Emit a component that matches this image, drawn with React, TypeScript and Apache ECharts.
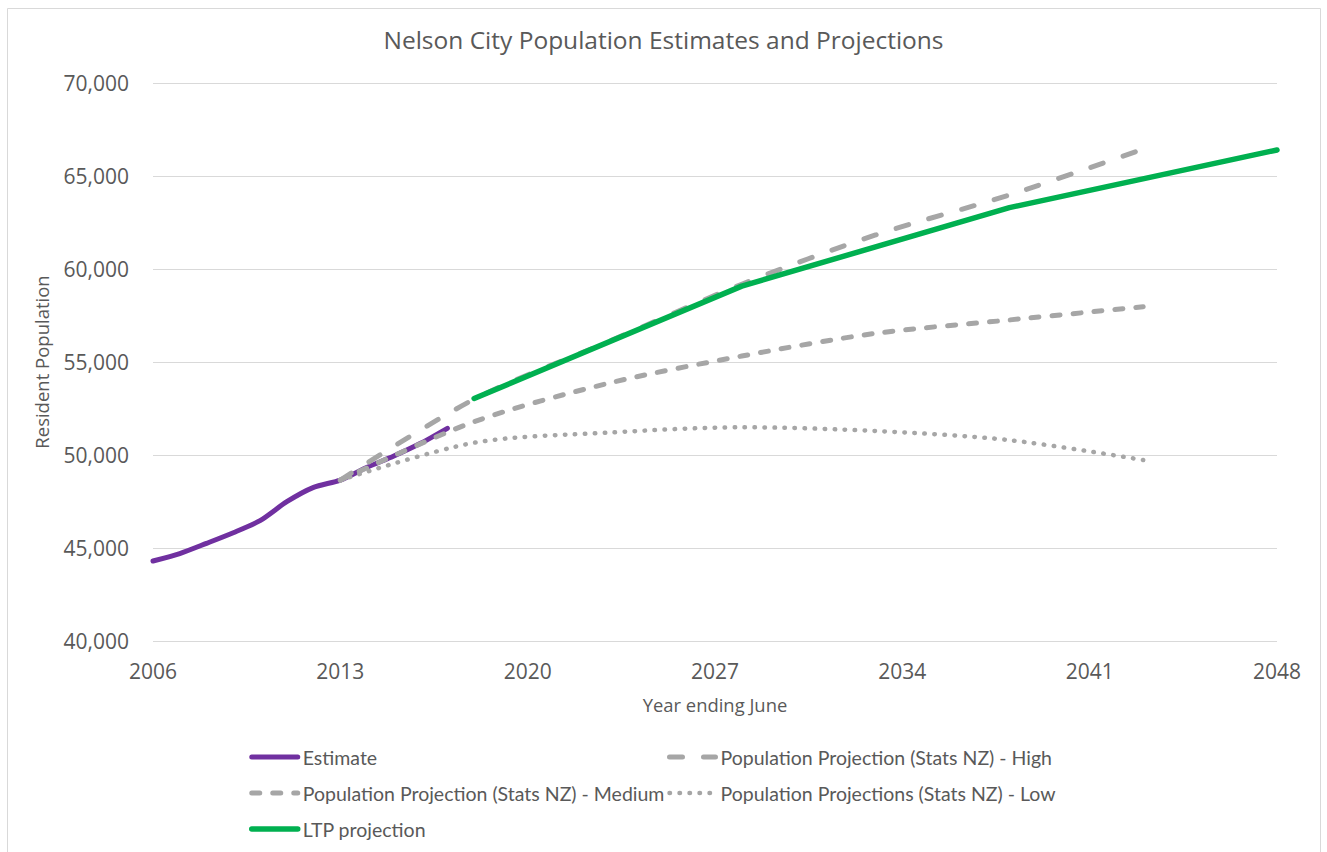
import React, { useEffect, useRef } from "react";
import * as echarts from "echarts";

const yearCategories: string[] = [];
for (let y = 2006; y <= 2048; y++) yearCategories.push(String(y));

const estimateYears = [2006, 2007, 2008, 2009, 2010, 2011, 2012, 2013, 2014, 2015, 2016, 2017];
const estimateValues = [44300, 44700, 45250, 45820, 46470, 47490, 48260, 48650, 49340, 49950, 50630, 51435];

const projectionYears = [2013, 2018, 2023, 2028, 2033, 2038, 2043];
const highValues = [48650, 53000, 56080, 59180, 61830, 63980, 66450];
const mediumValues = [48650, 51790, 53850, 55320, 56540, 57260, 57970];
const lowValues = [48650, 50660, 51200, 51490, 51290, 50800, 49730];

const ltpYears = [2018, 2028, 2038, 2048];
const ltpValues = [53040, 59080, 63300, 66400];

const seriesNames = [
  "Estimate",
  "Population Projection (Stats NZ) - High",
  "Population Projection (Stats NZ) - Medium",
  "Population Projections (Stats NZ) - Low",
  "LTP projection",
];

const pairs = (ys: number[], vs: number[]) => ys.map((y, i) => [String(y), vs[i]]);

const TEXT = "#595959";
const FONT = "'Open Sans', sans-serif";
const LEG_FONT = "Lato, sans-serif";

export default function App() {
  const ref = useRef<HTMLDivElement>(null);
  useEffect(() => {
    if (!ref.current) return;
    const chart = echarts.init(ref.current, null, { renderer: "svg" });
    const legendText = { color: TEXT, fontSize: 19.5, fontFamily: LEG_FONT, lineHeight: 22 };
    const legendBase = {
      orient: "vertical",
      top: 746,
      padding: 0,
      itemWidth: 46,
      itemHeight: 14,
      itemGap: 14,
      textStyle: legendText,
      itemStyle: { opacity: 0 },
      lineStyle: { width: "inherit", type: "inherit", cap: "round" },
    };
    chart.setOption({
      animation: false,
      backgroundColor: "#ffffff",
      title: {
        text: "Nelson City Population Estimates and Projections",
        left: "center",
        top: 27,
        padding: 0,
        textStyle: { color: TEXT, fontSize: 24.5, fontWeight: "normal", fontFamily: FONT },
      },
      graphic: [
        {
          type: "rect",
          shape: { x: 7.5, y: 8.5, width: 1313, height: 870 },
          style: { fill: "none", stroke: "#D9D9D9", lineWidth: 1 },
          silent: true,
        },
      ],
      legend: [
        { ...legendBase, left: 249, data: [seriesNames[0], seriesNames[2], seriesNames[4]] },
        { ...legendBase, left: 667, data: [seriesNames[1], seriesNames[3]] },
      ],
      grid: { left: 153, right: 50, top: 83, bottom: 211, containLabel: false },
      xAxis: {
        type: "category",
        data: yearCategories,
        boundaryGap: false,
        name: "Year ending June",
        nameLocation: "middle",
        nameGap: 54,
        nameTextStyle: { color: TEXT, fontSize: 18.4, fontFamily: FONT },
        axisLine: { show: false },
        axisTick: { show: false },
        axisLabel: { interval: 6, color: TEXT, fontSize: 21, fontFamily: FONT, margin: 19 },
        splitLine: { show: false },
      },
      yAxis: {
        type: "value",
        min: 40000,
        max: 70000,
        interval: 5000,
        name: "Resident Population",
        nameLocation: "middle",
        nameGap: 102,
        nameTextStyle: { color: TEXT, fontSize: 18.5, fontFamily: FONT },
        axisLine: { show: false },
        axisTick: { show: false },
        axisLabel: {
          color: TEXT,
          fontSize: 21,
          fontFamily: FONT,
          margin: 24,
          formatter: (v: number) => v.toLocaleString("en-US"),
        },
        splitLine: { lineStyle: { color: "#D9D9D9", width: 1 } },
      },
      series: [
        {
          name: seriesNames[0],
          type: "line",
          data: pairs(estimateYears, estimateValues),
          showSymbol: false,
          symbol: "none",
          smooth: 0.25,
          lineStyle: { color: "#7030A0", width: 5, cap: "round" },
          itemStyle: { color: "#7030A0" },
        },
        {
          name: seriesNames[1],
          type: "line",
          data: pairs(projectionYears, highValues),
          showSymbol: false,
          symbol: "none",
          smooth: 0.3,
          lineStyle: { color: "#A6A6A6", width: 5, type: [13, 21], cap: "round" },
          itemStyle: { color: "#A6A6A6" },
        },
        {
          name: seriesNames[2],
          type: "line",
          data: pairs(projectionYears, mediumValues),
          showSymbol: false,
          symbol: "none",
          smooth: 0.3,
          lineStyle: { color: "#A6A6A6", width: 5, type: [8, 13], cap: "round" },
          itemStyle: { color: "#A6A6A6" },
        },
        {
          name: seriesNames[3],
          type: "line",
          data: pairs(projectionYears, lowValues),
          showSymbol: false,
          symbol: "none",
          smooth: 0.3,
          lineStyle: { color: "#A6A6A6", width: 4.5, type: [0.5, 9.5], cap: "round" },
          itemStyle: { color: "#A6A6A6" },
        },
        {
          name: seriesNames[4],
          type: "line",
          data: pairs(ltpYears, ltpValues),
          showSymbol: false,
          symbol: "none",
          smooth: false,
          lineStyle: { color: "#00B050", width: 5.5, cap: "round" },
          itemStyle: { color: "#00B050" },
        },
      ],
    });
    return () => chart.dispose();
  }, []);
  return (
    <div
      ref={ref}
      style={{ position: "fixed", left: 0, top: 0, width: 1327, height: 852, background: "#fff" }}
    />
  );
}
